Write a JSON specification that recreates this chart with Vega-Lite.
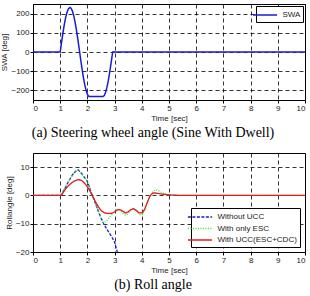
{
  "$schema": "https://vega.github.io/schema/vega-lite/v6.json",
  "padding": {"left": 0, "top": 3, "right": 4, "bottom": 0},
  "spacing": 11,
  "background": "white",
  "resolve": {
    "scale": {"color": "independent", "strokeDash": "independent"},
    "legend": {"color": "independent", "strokeDash": "independent"}
  },
  "config": {
    "font": "Liberation Sans",
    "view": {"stroke": "black", "strokeWidth": 1},
    "axis": {
      "domain": false,
      "grid": true,
      "gridColor": "black",
      "gridDash": [4, 3],
      "gridOpacity": 1,
      "gridWidth": 0.8,
      "ticks": true,
      "tickColor": "black",
      "tickSize": 3,
      "labelFont": "Liberation Sans",
      "labelFontSize": 8,
      "labelColor": "#222",
      "labelPadding": 1,
      "titleFont": "Liberation Sans",
      "titleFontSize": 8,
      "titleFontWeight": "normal",
      "titleColor": "#222",
      "titlePadding": 2
    },
    "legend": {
      "strokeColor": "black",
      "fillColor": "white",
      "padding": 2.5,
      "rowPadding": 0.5,
      "symbolType": "M-2.2,0H2.2",
      "symbolSize": 121,
      "symbolStrokeWidth": 1.5,
      "labelOffset": 11,
      "labelFont": "Liberation Sans",
      "labelFontSize": 8,
      "labelColor": "#222",
      "cornerRadius": 0
    },
    "title": {
      "font": "Liberation Serif",
      "fontSize": 14,
      "fontWeight": "normal",
      "color": "black",
      "orient": "bottom",
      "anchor": "middle",
      "dx": -16,
      "offset": 4
    }
  },
  "datasets": {
    "swa": [
      {"t": 0, "swa": 0, "series": "SWA"},
      {"t": 1.0, "swa": 0, "series": "SWA"},
      {"t": 1.05, "swa": 50.6, "series": "SWA"},
      {"t": 1.1, "swa": 98.8, "series": "SWA"},
      {"t": 1.15, "swa": 142.2, "series": "SWA"},
      {"t": 1.2, "swa": 178.8, "series": "SWA"},
      {"t": 1.25, "swa": 206.8, "series": "SWA"},
      {"t": 1.3, "swa": 224.7, "series": "SWA"},
      {"t": 1.357, "swa": 232, "series": "SWA"},
      {"t": 1.4, "swa": 227.9, "series": "SWA"},
      {"t": 1.45, "swa": 213.0, "series": "SWA"},
      {"t": 1.5, "swa": 187.7, "series": "SWA"},
      {"t": 1.55, "swa": 153.4, "series": "SWA"},
      {"t": 1.6, "swa": 111.8, "series": "SWA"},
      {"t": 1.65, "swa": 64.7, "series": "SWA"},
      {"t": 1.7, "swa": 14.6, "series": "SWA"},
      {"t": 1.75, "swa": -36.4, "series": "SWA"},
      {"t": 1.8, "swa": -85.4, "series": "SWA"},
      {"t": 1.85, "swa": -130.4, "series": "SWA"},
      {"t": 1.9, "swa": -169.1, "series": "SWA"},
      {"t": 1.95, "swa": -199.8, "series": "SWA"},
      {"t": 2.0, "swa": -220.6, "series": "SWA"},
      {"t": 2.05, "swa": -231.1, "series": "SWA"},
      {"t": 2.07, "swa": -232, "series": "SWA"},
      {"t": 2.57, "swa": -232, "series": "SWA"},
      {"t": 2.62, "swa": -226.4, "series": "SWA"},
      {"t": 2.67, "swa": -210.0, "series": "SWA"},
      {"t": 2.72, "swa": -183.3, "series": "SWA"},
      {"t": 2.77, "swa": -147.8, "series": "SWA"},
      {"t": 2.82, "swa": -105.3, "series": "SWA"},
      {"t": 2.87, "swa": -57.8, "series": "SWA"},
      {"t": 2.93, "swa": 0, "series": "SWA"},
      {"t": 10, "swa": 0, "series": "SWA"}
    ],
    "roll": [
      {"t": 0, "roll": 0, "series": "Without UCC"},
      {"t": 1.0, "roll": 0, "series": "Without UCC"},
      {"t": 1.05, "roll": 0.3, "series": "Without UCC"},
      {"t": 1.1, "roll": 1.2, "series": "Without UCC"},
      {"t": 1.2, "roll": 3.0, "series": "Without UCC"},
      {"t": 1.3, "roll": 4.8, "series": "Without UCC"},
      {"t": 1.4, "roll": 6.5, "series": "Without UCC"},
      {"t": 1.5, "roll": 7.9, "series": "Without UCC"},
      {"t": 1.6, "roll": 8.8, "series": "Without UCC"},
      {"t": 1.67, "roll": 9.0, "series": "Without UCC"},
      {"t": 1.8, "roll": 7.6, "series": "Without UCC"},
      {"t": 1.9, "roll": 6.3, "series": "Without UCC"},
      {"t": 2.0, "roll": 4.9, "series": "Without UCC"},
      {"t": 2.1, "roll": 2.2, "series": "Without UCC"},
      {"t": 2.2, "roll": -0.5, "series": "Without UCC"},
      {"t": 2.3, "roll": -3.0, "series": "Without UCC"},
      {"t": 2.4, "roll": -5.5, "series": "Without UCC"},
      {"t": 2.5, "roll": -8.0, "series": "Without UCC"},
      {"t": 2.6, "roll": -10.0, "series": "Without UCC"},
      {"t": 2.7, "roll": -11.7, "series": "Without UCC"},
      {"t": 2.8, "roll": -13.2, "series": "Without UCC"},
      {"t": 2.9, "roll": -14.7, "series": "Without UCC"},
      {"t": 3.0, "roll": -16.5, "series": "Without UCC"},
      {"t": 3.05, "roll": -18.3, "series": "Without UCC"},
      {"t": 3.1, "roll": -20, "series": "Without UCC"},
      {"t": 0, "roll": 0, "series": "With only ESC"},
      {"t": 1.0, "roll": 0, "series": "With only ESC"},
      {"t": 1.05, "roll": 0.3, "series": "With only ESC"},
      {"t": 1.1, "roll": 1.2, "series": "With only ESC"},
      {"t": 1.2, "roll": 3.0, "series": "With only ESC"},
      {"t": 1.3, "roll": 4.8, "series": "With only ESC"},
      {"t": 1.4, "roll": 6.5, "series": "With only ESC"},
      {"t": 1.5, "roll": 7.9, "series": "With only ESC"},
      {"t": 1.6, "roll": 8.8, "series": "With only ESC"},
      {"t": 1.67, "roll": 9.0, "series": "With only ESC"},
      {"t": 1.8, "roll": 7.6, "series": "With only ESC"},
      {"t": 1.9, "roll": 6.3, "series": "With only ESC"},
      {"t": 2.0, "roll": 4.9, "series": "With only ESC"},
      {"t": 2.1, "roll": 2.2, "series": "With only ESC"},
      {"t": 2.2, "roll": -0.5, "series": "With only ESC"},
      {"t": 2.3, "roll": -3.0, "series": "With only ESC"},
      {"t": 2.4, "roll": -5.6, "series": "With only ESC"},
      {"t": 2.5, "roll": -8.0, "series": "With only ESC"},
      {"t": 2.6, "roll": -9.8, "series": "With only ESC"},
      {"t": 2.7, "roll": -9.0, "series": "With only ESC"},
      {"t": 2.8, "roll": -7.8, "series": "With only ESC"},
      {"t": 2.9, "roll": -6.8, "series": "With only ESC"},
      {"t": 3.0, "roll": -5.6, "series": "With only ESC"},
      {"t": 3.1, "roll": -4.9, "series": "With only ESC"},
      {"t": 3.2, "roll": -5.2, "series": "With only ESC"},
      {"t": 3.3, "roll": -6.3, "series": "With only ESC"},
      {"t": 3.4, "roll": -7.0, "series": "With only ESC"},
      {"t": 3.5, "roll": -6.5, "series": "With only ESC"},
      {"t": 3.6, "roll": -5.3, "series": "With only ESC"},
      {"t": 3.7, "roll": -4.7, "series": "With only ESC"},
      {"t": 3.8, "roll": -5.4, "series": "With only ESC"},
      {"t": 3.9, "roll": -6.6, "series": "With only ESC"},
      {"t": 4.0, "roll": -7.0, "series": "With only ESC"},
      {"t": 4.1, "roll": -5.5, "series": "With only ESC"},
      {"t": 4.2, "roll": -2.8, "series": "With only ESC"},
      {"t": 4.3, "roll": -0.3, "series": "With only ESC"},
      {"t": 4.4, "roll": 1.3, "series": "With only ESC"},
      {"t": 4.5, "roll": 2.0, "series": "With only ESC"},
      {"t": 4.6, "roll": 1.8, "series": "With only ESC"},
      {"t": 4.7, "roll": 1.2, "series": "With only ESC"},
      {"t": 4.8, "roll": 0.8, "series": "With only ESC"},
      {"t": 4.9, "roll": 0.5, "series": "With only ESC"},
      {"t": 5.0, "roll": 0.3, "series": "With only ESC"},
      {"t": 5.2, "roll": 0.1, "series": "With only ESC"},
      {"t": 5.5, "roll": 0, "series": "With only ESC"},
      {"t": 10, "roll": 0, "series": "With only ESC"},
      {"t": 0, "roll": 0, "series": "With UCC(ESC+CDC)"},
      {"t": 1.0, "roll": 0, "series": "With UCC(ESC+CDC)"},
      {"t": 1.05, "roll": 0.2, "series": "With UCC(ESC+CDC)"},
      {"t": 1.1, "roll": 0.9, "series": "With UCC(ESC+CDC)"},
      {"t": 1.2, "roll": 2.3, "series": "With UCC(ESC+CDC)"},
      {"t": 1.3, "roll": 3.4, "series": "With UCC(ESC+CDC)"},
      {"t": 1.4, "roll": 4.3, "series": "With UCC(ESC+CDC)"},
      {"t": 1.5, "roll": 5.0, "series": "With UCC(ESC+CDC)"},
      {"t": 1.6, "roll": 5.4, "series": "With UCC(ESC+CDC)"},
      {"t": 1.7, "roll": 5.6, "series": "With UCC(ESC+CDC)"},
      {"t": 1.8, "roll": 5.2, "series": "With UCC(ESC+CDC)"},
      {"t": 1.9, "roll": 4.3, "series": "With UCC(ESC+CDC)"},
      {"t": 2.0, "roll": 3.0, "series": "With UCC(ESC+CDC)"},
      {"t": 2.1, "roll": 1.4, "series": "With UCC(ESC+CDC)"},
      {"t": 2.2, "roll": -0.4, "series": "With UCC(ESC+CDC)"},
      {"t": 2.3, "roll": -2.3, "series": "With UCC(ESC+CDC)"},
      {"t": 2.4, "roll": -4.0, "series": "With UCC(ESC+CDC)"},
      {"t": 2.5, "roll": -5.3, "series": "With UCC(ESC+CDC)"},
      {"t": 2.6, "roll": -6.0, "series": "With UCC(ESC+CDC)"},
      {"t": 2.7, "roll": -6.3, "series": "With UCC(ESC+CDC)"},
      {"t": 2.8, "roll": -6.4, "series": "With UCC(ESC+CDC)"},
      {"t": 2.9, "roll": -6.3, "series": "With UCC(ESC+CDC)"},
      {"t": 3.0, "roll": -5.8, "series": "With UCC(ESC+CDC)"},
      {"t": 3.1, "roll": -5.1, "series": "With UCC(ESC+CDC)"},
      {"t": 3.2, "roll": -5.0, "series": "With UCC(ESC+CDC)"},
      {"t": 3.3, "roll": -5.6, "series": "With UCC(ESC+CDC)"},
      {"t": 3.4, "roll": -6.2, "series": "With UCC(ESC+CDC)"},
      {"t": 3.5, "roll": -5.8, "series": "With UCC(ESC+CDC)"},
      {"t": 3.6, "roll": -5.0, "series": "With UCC(ESC+CDC)"},
      {"t": 3.7, "roll": -4.7, "series": "With UCC(ESC+CDC)"},
      {"t": 3.8, "roll": -5.3, "series": "With UCC(ESC+CDC)"},
      {"t": 3.9, "roll": -6.2, "series": "With UCC(ESC+CDC)"},
      {"t": 4.0, "roll": -6.2, "series": "With UCC(ESC+CDC)"},
      {"t": 4.1, "roll": -5.0, "series": "With UCC(ESC+CDC)"},
      {"t": 4.2, "roll": -2.5, "series": "With UCC(ESC+CDC)"},
      {"t": 4.3, "roll": -0.2, "series": "With UCC(ESC+CDC)"},
      {"t": 4.4, "roll": 0.8, "series": "With UCC(ESC+CDC)"},
      {"t": 4.5, "roll": 0.9, "series": "With UCC(ESC+CDC)"},
      {"t": 4.6, "roll": 0.7, "series": "With UCC(ESC+CDC)"},
      {"t": 4.8, "roll": 0.4, "series": "With UCC(ESC+CDC)"},
      {"t": 5.0, "roll": 0.2, "series": "With UCC(ESC+CDC)"},
      {"t": 5.3, "roll": 0.05, "series": "With UCC(ESC+CDC)"},
      {"t": 5.6, "roll": 0, "series": "With UCC(ESC+CDC)"},
      {"t": 10, "roll": 0, "series": "With UCC(ESC+CDC)"}
    ]
  },
  "vconcat": [
    {
      "width": 272,
      "height": 96,
      "title": {"text": "(a) Steering wheel angle (Sine With Dwell)"},
      "data": {"name": "swa"},
      "mark": {"type": "line", "strokeWidth": 1.5},
      "encoding": {
        "x": {"field": "t", "type": "quantitative", "scale": {"domain": [0, 10], "nice": false},
              "axis": {"values": [0, 1, 2, 3, 4, 5, 6, 7, 8, 9, 10], "title": "Time [sec]"}},
        "y": {"field": "swa", "type": "quantitative", "scale": {"domain": [-250, 250], "nice": false},
              "axis": {"values": [-200, -100, 0, 100, 200], "title": "SWA [deg]"}},
        "color": {"field": "series", "type": "nominal",
                  "scale": {"domain": ["SWA"], "range": ["#1a1ad8"]},
                  "legend": {"title": null, "orient": "top-right", "offset": 2}}
      }
    },
    {
      "width": 272,
      "height": 99,
      "title": {"text": "(b) Roll angle"},
      "data": {"name": "roll"},
      "mark": {"type": "line", "strokeWidth": 1.3, "clip": true},
      "encoding": {
        "x": {"field": "t", "type": "quantitative", "scale": {"domain": [0, 10], "nice": false},
              "axis": {"values": [0, 1, 2, 3, 4, 5, 6, 7, 8, 9, 10], "title": "Time [sec]"}},
        "y": {"field": "roll", "type": "quantitative", "scale": {"domain": [-20, 15], "nice": false},
              "axis": {"values": [-20, -10, 0, 10], "title": "Rollangle [deg]"}},
        "color": {"field": "series", "type": "nominal",
                  "scale": {"domain": ["Without UCC", "With only ESC", "With UCC(ESC+CDC)"], "range": ["#1a1ad8", "#33e633", "#e81a1a"]},
                  "legend": {"title": null, "orient": "bottom-right", "offset": 5}},
        "strokeDash": {"field": "series", "type": "nominal",
                  "scale": {"domain": ["Without UCC", "With only ESC", "With UCC(ESC+CDC)"], "range": [[3, 1.5], [1, 1.5], [1, 0]]},
                  "legend": {"title": null, "orient": "bottom-right", "offset": 5}}
      }
    }
  ]
}
